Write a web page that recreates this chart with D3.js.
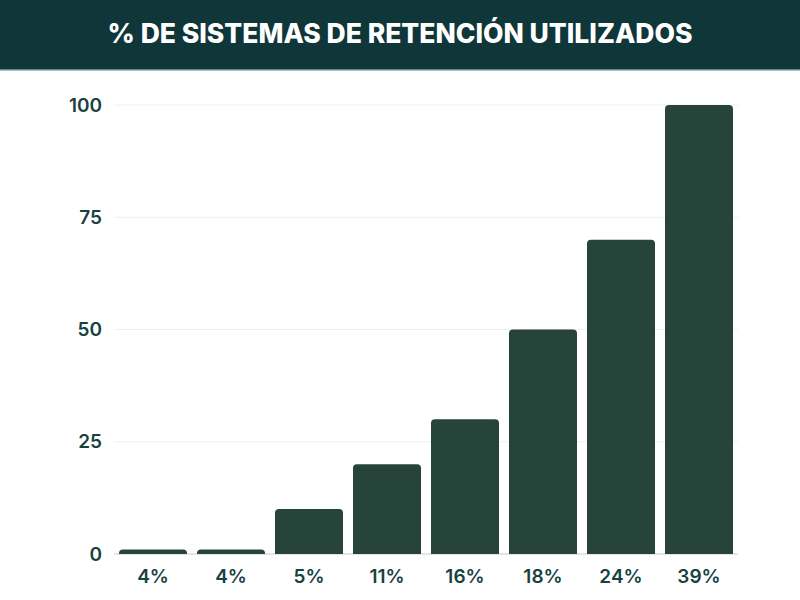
<!DOCTYPE html>
<html lang="es">
<head>
<meta charset="UTF-8">
<title>% de sistemas de retención utilizados</title>
<script src="https://d3js.org/d3.v7.min.js"></script>
<style>
    body { margin: 0; background: #fff; }
    text { font-family: Inter, "Open Sans", sans-serif; }
</style>
</head>
<body>
<div id="fig"></div>
<script>
    // datos
    let categories = ["4%", "4%", "5%", "11%", "16%", "18%", "24%", "39%"];
    let values = [1, 1, 10, 20, 30, 50, 70, 100];
    let yTicks = [0, 25, 50, 75, 100];
    let title = "% DE SISTEMAS DE RETENCIÓN UTILIZADOS";

    let w = 800, h = 600;
    let svg = d3.select("#fig").append("svg")
        .attr("width", w).attr("height", h);

    // cabecera
    svg.append("rect").attr("x", 0).attr("y", 0)
        .attr("width", w).attr("height", 70).attr("fill", "#0f3639");
    svg.append("rect").attr("x", 0).attr("y", 69)
        .attr("width", w).attr("height", 1.5).attr("fill", "#5f8a8c");
    svg.append("text")
        .attr("x", w / 2).attr("y", 33)
        .attr("text-anchor", "middle").attr("dominant-baseline", "central")
        .attr("fill", "#fff").attr("font-size", 26.5).attr("font-weight", 800)
        .text(title);

    let x = d3.scaleBand().domain(d3.range(categories.length))
        .range([114, 738]).paddingInner(0.128).paddingOuter(0.064);
    let y = d3.scaleLinear().domain([0, 100]).range([554, 105]);

    // rejilla
    svg.append("g").selectAll("line").data(yTicks).join("line")
        .attr("x1", 114).attr("x2", 738)
        .attr("y1", d => y(d)).attr("y2", d => y(d))
        .attr("stroke", d => d === 0 ? "#e2e6e5" : "#f0f0f0")
        .attr("stroke-width", d => d === 0 ? 2 : 1);

    let yAxis = svg.append("g").attr("transform", "translate(102,0)")
        .call(d3.axisLeft(y).tickValues(yTicks).tickSize(0).tickPadding(0));
    yAxis.select(".domain").remove();
    yAxis.selectAll("text").attr("fill", "#17423f")
        .attr("font-size", 19).attr("font-weight", 600)
        .style("font-family", "Inter, sans-serif");

    // barras
    let r = 4;
    svg.append("g").selectAll("path").data(values).join("path")
        .attr("fill", "#27443b")
        .attr("d", (d, i) => {
            let x0 = x(i), bw = x.bandwidth(), y0 = y(d), yb = y(0);
            let rr = Math.min(r, (yb - y0));
            return `M${x0},${yb}V${y0 + rr}Q${x0},${y0} ${x0 + rr},${y0}` +
                `H${x0 + bw - rr}Q${x0 + bw},${y0} ${x0 + bw},${y0 + rr}V${yb}Z`;
        });

    let xAxis = svg.append("g").attr("transform", "translate(0,569)")
        .call(d3.axisBottom(x).tickFormat(i => categories[i]).tickSize(0).tickPadding(0));
    xAxis.select(".domain").remove();
    xAxis.selectAll("text").attr("fill", "#17423f")
        .attr("font-size", 19).attr("font-weight", 600)
        .style("font-family", "Inter, sans-serif");
</script>
</body>
</html>
